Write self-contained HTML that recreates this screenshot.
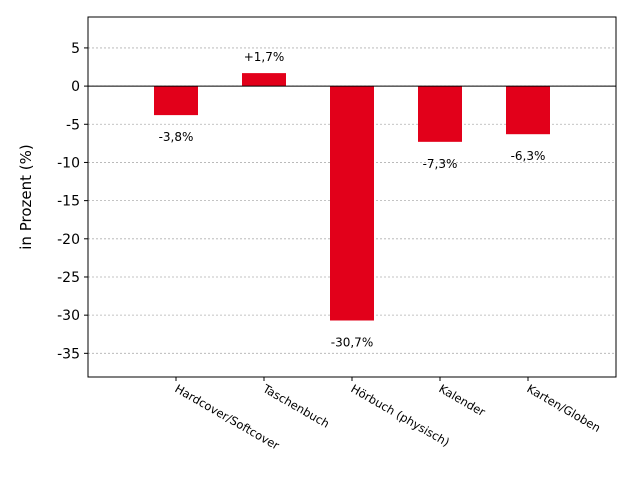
<!DOCTYPE html>
<html><head><meta charset="utf-8"><style>
body{margin:0;background:#fff;}
svg{display:block;font-family:"DejaVu Sans","Liberation Sans",sans-serif;}
</style></head><body>
<svg id="chart" width="640" height="480"></svg>
<script>
const categories=["Hardcover/Softcover","Taschenbuch","Hörbuch (physisch)","Kalender","Karten/Globen"];
const values=[-3.8,1.7,-30.7,-7.3,-6.3];
const valueLabels=["-3,8%","+1,7%","-30,7%","-7,3%","-6,3%"];
const yTicks=[5,0,-5,-10,-15,-20,-25,-30,-35];
const NS="http://www.w3.org/2000/svg";
const svg=document.getElementById('chart');
const L=88,R=616,T=17,B=377,ymin=-38.1,ymax=9.05;
const y=v=>T+(ymax-v)/(ymax-ymin)*(B-T);
const x=i=>L+(i+1)/6*(R-L);
const bw=0.5*(R-L)/6;
function mk(tag,attrs,txt){const e=document.createElementNS(NS,tag);for(const k in attrs)e.setAttribute(k,attrs[k]);if(txt!==undefined)e.textContent=txt;svg.appendChild(e);return e;}
yTicks.forEach(t=>{
  const g=mk('line',{x1:L,x2:R,y1:y(t),y2:y(t),stroke:'#b0b0b0','stroke-dasharray':'2,2','stroke-width':0.8});
  
  
  const tk=mk('line',{x1:L-4,x2:L,y1:y(t),y2:y(t),stroke:'#000'});
  
  
  const lb=mk('text',{x:L-8,y:y(t)+5,'text-anchor':'end','font-size':14},String(t));
  
  
});
values.forEach((v,i)=>{
  const cx=x(i);
  const b=mk('rect',{x:cx-bw/2,y:Math.min(y(v),y(0)),width:bw,height:Math.abs(y(v)-y(0)),fill:'#e2001a'});
  
  
  const ly=v>=0?y(v)-12:y(v)+26;
  const lb=mk('text',{x:cx,y:ly,'text-anchor':'middle','font-size':12},valueLabels[i]);
  
  
  const tk=mk('line',{x1:cx,x2:cx,y1:B,y2:B+4,stroke:'#000'});
  
  
  const xl=mk('text',{x:cx-2,y:B+14,'font-size':11.5,transform:`rotate(30 ${cx-2} ${B+14})`},categories[i]);
  
  
});
const z=mk('line',{x1:L,x2:R,y1:y(0),y2:y(0),stroke:'#000','stroke-width':1});


const fr=mk('rect',{x:L,y:T,width:R-L,height:B-T,fill:'none',stroke:'#000','stroke-width':1});


const yt=mk('text',{x:31,y:(T+B)/2,'text-anchor':'middle','font-size':15,transform:`rotate(-90 31 ${(T+B)/2})`},'in Prozent (%)');


</script>
</body></html>
